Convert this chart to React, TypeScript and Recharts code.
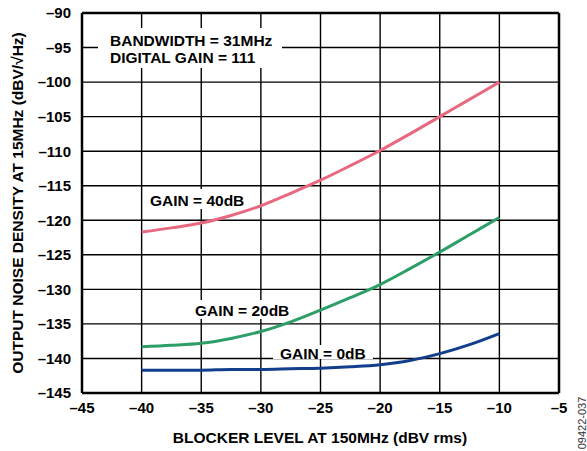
import { LineChart, Line, XAxis, YAxis, CartesianGrid, ReferenceLine } from 'recharts';

const blocker = [-40, -37.5, -35, -32.5, -30, -27.5, -25, -22.5, -20, -17.5, -15, -12.5, -10];
const gain40 = [-121.7, -121.1, -120.4, -119.3, -117.9, -116.1, -114.2, -112.1, -109.9, -107.5, -105.0, -102.5, -100.0];
const gain20 = [-138.3, -138.1, -137.8, -137.1, -136.1, -134.7, -133.0, -131.2, -129.3, -127.0, -124.6, -122.1, -119.6];
const gain0 = [-141.7, -141.7, -141.7, -141.6, -141.6, -141.5, -141.4, -141.2, -140.9, -140.3, -139.3, -138.0, -136.4];

const xTicks = [-45, -40, -35, -30, -25, -20, -15, -10, -5];
const yTicks = [-145, -140, -135, -130, -125, -120, -115, -110, -105, -100, -95, -90];

const data = blocker.map((x, i) => ({ x, g40: gain40[i], g20: gain20[i], g0: gain0[i] }));

const font = 'Arial, "Liberation Sans", Helvetica, sans-serif';
const dash = (v: number) => String(v).replace('-', '\u2013');
const tickStyle = { fontSize: 15, fontWeight: 700, fill: '#000', fontFamily: font };

export default function App() {
  return (
    <div style={{ position: 'absolute', left: 0, top: 0, width: 587, height: 451, background: '#fff' }}>
      <LineChart width={587} height={451} data={data} margin={{ top: 13, right: 28, bottom: 28, left: 0 }}>
        <CartesianGrid stroke="#000" strokeWidth={1.4} horizontalValues={yTicks} verticalValues={xTicks} />
        <XAxis
          dataKey="x"
          type="number"
          domain={[-45, -5]}
          ticks={xTicks}
          tickFormatter={dash}
          tick={tickStyle}
          tickLine={false}
          axisLine={{ stroke: '#000', strokeWidth: 2.5 }}
          height={30}
          tickMargin={3}
        />
        <YAxis
          type="number"
          domain={[-145, -90]}
          ticks={yTicks}
          tickFormatter={dash}
          tick={tickStyle}
          tickLine={false}
          axisLine={{ stroke: '#000', strokeWidth: 2.5 }}
          width={82}
          tickMargin={5}
        />
        <ReferenceLine y={-90} stroke="#000" strokeWidth={2.5} />
        <ReferenceLine x={-5} stroke="#000" strokeWidth={2.5} />
        <Line type="monotone" dataKey="g40" stroke="#e8697f" strokeWidth={3} dot={false} isAnimationActive={false} />
        <Line type="monotone" dataKey="g20" stroke="#2e9e68" strokeWidth={3} dot={false} isAnimationActive={false} />
        <Line type="monotone" dataKey="g0" stroke="#133e8c" strokeWidth={3} dot={false} isAnimationActive={false} />
      </LineChart>
      <svg width={587} height={451} style={{ position: 'absolute', left: 0, top: 0, pointerEvents: 'none' }}>
        <g fontFamily={font} fontWeight={700} fontSize={15.5} fill="#000">
          <rect x={98} y={28} width={184} height={40} fill="#fff" />
          <text x={110} y={46}>BANDWIDTH = 31MHz</text>
          <text x={110} y={63}>DIGITAL GAIN = 111</text>
          <rect x={143} y={189} width={102} height={20} fill="#fff" />
          <text x={150} y={206}>GAIN = 40dB</text>
          <rect x={189} y={300} width={102} height={19} fill="#fff" />
          <text x={195} y={316}>GAIN = 20dB</text>
          <rect x={273} y={345} width={100} height={14} fill="#fff" />
          <text x={280} y={359}>GAIN = 0dB</text>
          <text x={320} y={443} textAnchor="middle">BLOCKER LEVEL AT 150MHz (dBV rms)</text>
          <text x={23} y={203} textAnchor="middle" transform="rotate(-90 23 203)">OUTPUT NOISE DENSITY AT 15MHz (dBV/√Hz)</text>
        </g>
        <text x={586} y={423} textAnchor="middle" transform="rotate(-90 586 423)" fontFamily={font} fontSize={11} fill="#333">09422-037</text>
      </svg>
    </div>
  );
}
